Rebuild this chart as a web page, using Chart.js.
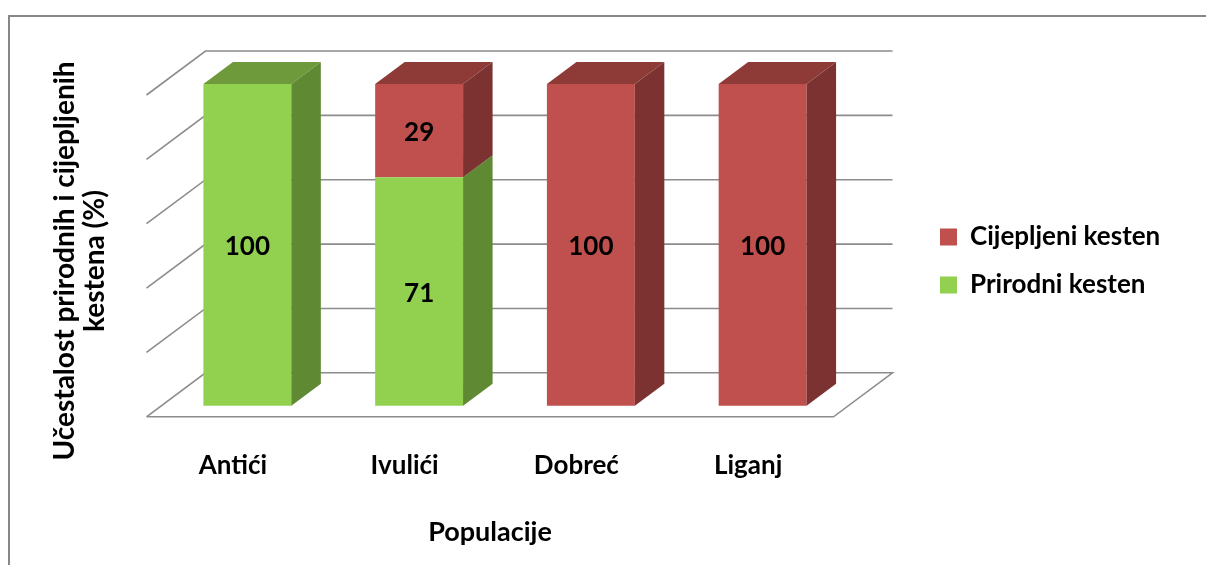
<!DOCTYPE html>
<html>
<head>
<meta charset="utf-8">
<script src="https://cdn.jsdelivr.net/npm/chart.js@4.4.0/dist/chart.umd.min.js"></script>
<style>
  html, body { margin: 0; padding: 0; background: #fff; }
</style>
</head>
<body>
<canvas id="kesten-chart" width="1206" height="565"></canvas>
<script>
// Podaci
var populacije = ['Antići', 'Ivulići', 'Dobreć', 'Liganj'];
var prirodni = [100, 71, 0, 0];
var cijepljeni = [0, 29, 100, 100];
var mrezaY = [0, 20, 40, 60, 80, 100];
var yNaslov = ['Učestalost prirodnih i cijepljenih', 'kestena (%)'];
var xNaslov = 'Populacije';

var FONT = 'Lato, "Open Sans", sans-serif';

// 3D izgled: dubina stupca, zadnji zid i prednji rub poda
var STUPAC_DX = 29.5, STUPAC_DY = -22;
var ZID_DX = 44, ZID_DY = -33;
var POD_DX = -59, POD_DY = 44;

var boje = {
  prirodni: { lice: '#92D050', bok: '#5F8933', vrh: '#6E9A3C' },
  cijepljeni: { lice: '#C0504D', bok: '#7B3230', vrh: '#8E3B38' }
};

// sirina legende (da plot ostane na istom mjestu)
var LEG_PAD = 22, LEG_BOX = 17, LEG_FONT = 26;
var mj = document.createElement('canvas').getContext('2d');
mj.font = 'bold ' + LEG_FONT + 'px ' + FONT;
var legSirina = LEG_PAD + LEG_BOX + LEG_FONT / 2 + Math.max(
  mj.measureText('Cijepljeni kesten').width, mj.measureText('Prirodni kesten').width) + 10;
var desniRub = Math.max(0, 1206 - 848.5 - 69.5 - legSirina);

var efekt3d = {
  id: 'efekt3d',
  beforeDraw: function (chart) {
    var ctx = chart.ctx;
    ctx.save();
    ctx.fillStyle = '#fff';
    ctx.fillRect(0, 0, chart.width, chart.height);
    ctx.strokeStyle = '#878787';
    ctx.lineWidth = 2;
    ctx.strokeRect(9, 16, chart.width + 40, chart.height + 40);
    ctx.restore();
  },
  beforeDatasetsDraw: function (chart) {
    var ctx = chart.ctx, y = chart.scales.y, a = chart.chartArea;
    var lijevo = a.left + ZID_DX, desno = a.right + ZID_DX;
    ctx.save();
    ctx.strokeStyle = '#8c8c8c';
    ctx.lineWidth = 1.6;
    mrezaY.forEach(function (v) {
      var yy = y.getPixelForValue(v) + ZID_DY;
      ctx.beginPath();
      ctx.moveTo(lijevo + POD_DX, yy + POD_DY);
      ctx.lineTo(lijevo, yy);
      ctx.lineTo(desno, yy);
      if (v === 0) {
        ctx.lineTo(desno + POD_DX, yy + POD_DY);
        ctx.lineTo(lijevo + POD_DX, yy + POD_DY);
      }
      ctx.stroke();
    });
    ctx.restore();
  },
  afterDatasetsDraw: function (chart) {
    var ctx = chart.ctx;
    var n = chart.data.labels.length;
    ctx.save();
    for (var j = 0; j < n; j++) {
      var zadnji = -1;
      chart.data.datasets.forEach(function (ds, i) { if (ds.data[j] > 0) zadnji = i; });
      chart.data.datasets.forEach(function (ds, i) {
        if (!(ds.data[j] > 0)) return;
        var el = chart.getDatasetMeta(i).data[j];
        var l = el.x - el.width / 2, r = el.x + el.width / 2, t = el.y, b = el.base;
        var c = ds.boje3d;
        ctx.fillStyle = c.bok;
        ctx.beginPath();
        ctx.moveTo(r, t);
        ctx.lineTo(r + STUPAC_DX, t + STUPAC_DY);
        ctx.lineTo(r + STUPAC_DX, b + STUPAC_DY);
        ctx.lineTo(r, b);
        ctx.closePath();
        ctx.fill();
        if (i === zadnji) {
          ctx.fillStyle = c.vrh;
          ctx.beginPath();
          ctx.moveTo(l, t);
          ctx.lineTo(l + STUPAC_DX, t + STUPAC_DY);
          ctx.lineTo(r + STUPAC_DX, t + STUPAC_DY);
          ctx.lineTo(r, t);
          ctx.closePath();
          ctx.fill();
        }
      });
    }
    // vrijednosti na stupcima
    ctx.fillStyle = '#000';
    ctx.font = 'bold 26px ' + FONT;
    ctx.textAlign = 'center';
    ctx.textBaseline = 'middle';
    chart.data.datasets.forEach(function (ds, i) {
      chart.getDatasetMeta(i).data.forEach(function (el, j) {
        if (ds.data[j] > 0) ctx.fillText(String(ds.data[j]), el.x, (el.y + el.base) / 2 + 2);
      });
    });
    ctx.restore();
  },
  afterDraw: function (chart) {
    var ctx = chart.ctx;
    ctx.save();
    ctx.fillStyle = '#000';
    ctx.font = 'bold 27px ' + FONT;
    ctx.textAlign = 'center';
    ctx.textBaseline = 'alphabetic';
    ctx.fillText(xNaslov, 490, 541);
    ctx.restore();
  }
};

var ctx = document.getElementById('kesten-chart').getContext('2d');
var kestenChart = new Chart(ctx, {
  type: 'bar',
  data: {
    labels: populacije,
    datasets: [{
      label: 'Prirodni kesten',
      data: prirodni,
      backgroundColor: boje.prirodni.lice,
      boje3d: boje.prirodni,
      borderWidth: 0
    }, {
      label: 'Cijepljeni kesten',
      data: cijepljeni,
      backgroundColor: boje.cijepljeni.lice,
      boje3d: boje.cijepljeni,
      borderWidth: 0
    }]
  },
  options: {
    responsive: false,
    animation: false,
    categoryPercentage: 1,
    barPercentage: 0.512,
    layout: { padding: { left: 0, top: 84, right: desniRub, bottom: 0 } },
    scales: {
      x: {
        stacked: true,
        grid: { display: false, drawTicks: false },
        border: { display: false },
        ticks: {
          color: '#000',
          font: { family: FONT, size: 26, weight: 'bold' },
          padding: 12,
          labelOffset: -14.5,
          maxRotation: 0,
          autoSkip: false
        },
        afterFit: function (s) { s.height = 127; }
      },
      y: {
        stacked: true,
        min: -10,
        max: 100,
        ticks: { display: false },
        grid: { display: false },
        border: { display: false },
        title: {
          display: true,
          text: yNaslov,
          color: '#000',
          font: { family: FONT, size: 28, weight: 'bold', lineHeight: '30px' },
          padding: { top: 50, bottom: 0 }
        },
        afterFit: function (s) { s.width = 161.5; }
      },
      razmak: {
        position: 'right',
        ticks: { display: false },
        grid: { display: false },
        border: { display: false },
        afterFit: function (s) { s.width = 69.5; }
      }
    },
    plugins: {
      legend: {
        position: 'right',
        reverse: true,
        fullSize: false,
        maxWidth: 340,
        labels: {
          boxWidth: LEG_BOX,
          boxHeight: LEG_BOX,
          padding: LEG_PAD,
          color: '#000',
          font: { family: FONT, size: LEG_FONT, weight: 'bold' }
        }
      },
      tooltip: { enabled: false }
    }
  },
  plugins: [efekt3d]
});
</script>
</body>
</html>
